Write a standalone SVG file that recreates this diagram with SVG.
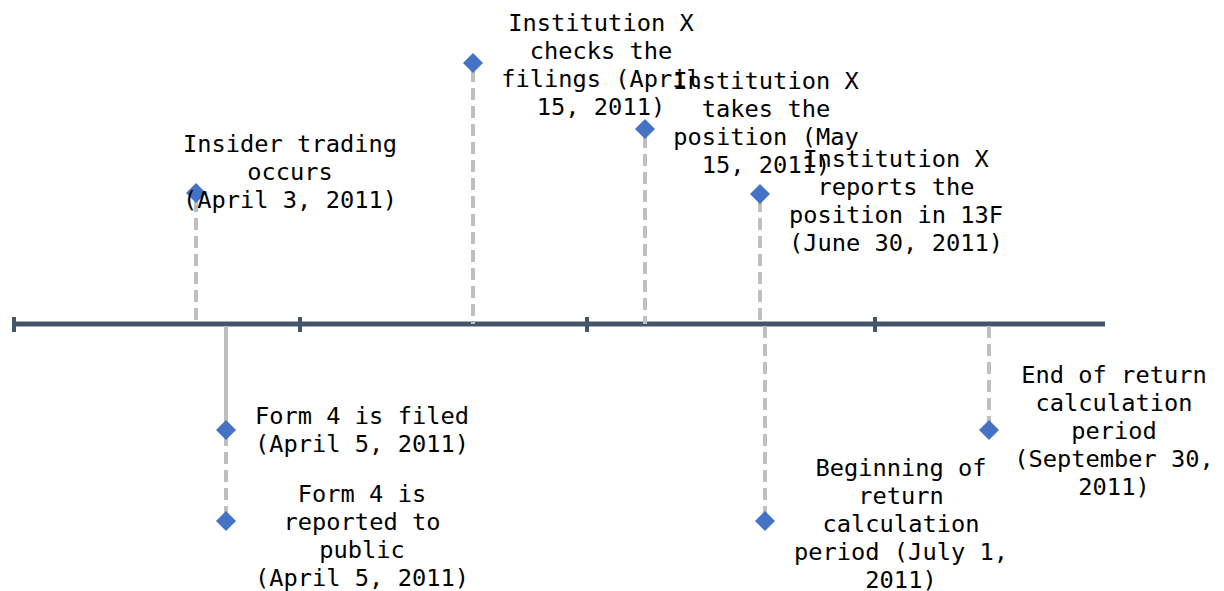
<svg xmlns="http://www.w3.org/2000/svg" width="1224" height="591" viewBox="0 0 1224 591">
<defs>
<style>
.axis{stroke:#44546A;stroke-width:5;fill:none}
.tick{stroke:#44546A;stroke-width:4;fill:none}
.dash{stroke:#BFBFBF;stroke-width:4;stroke-dasharray:12,6;fill:none}
.solid{stroke:#BFBFBF;stroke-width:4;fill:none}
.dia{fill:#4472C4}
text{font-family:"DejaVu Sans Mono","Liberation Mono",monospace;font-size:23.7px;fill:#000;text-anchor:middle}
</style>
<path id="d" d="M0,-10 L10,0 L0,10 L-10,0 Z"/>
</defs>
<rect width="1224" height="591" fill="#fff"/>
<g id="axis">
<line class="axis" x1="12" y1="324" x2="1105" y2="324"/>
<line class="tick" x1="14" y1="317" x2="14" y2="332"/>
<line class="tick" x1="300" y1="317" x2="300" y2="332"/>
<line class="tick" x1="587" y1="317" x2="587" y2="332"/>
<line class="tick" x1="875" y1="317" x2="875" y2="332"/>
</g>
<g id="connectors">
<line class="dash" x1="196" y1="200" x2="196" y2="324"/>
<line class="dash" x1="226" y1="326" x2="226" y2="521"/>
<line class="solid" x1="226" y1="326" x2="226" y2="430"/>
<line class="dash" x1="473" y1="70" x2="473" y2="324"/>
<line class="dash" x1="645" y1="136" x2="645" y2="324"/>
<line class="dash" x1="760" y1="200" x2="760" y2="324"/>
<line class="dash" x1="765" y1="326" x2="765" y2="521"/>
<line class="dash" x1="989" y1="326" x2="989" y2="430"/>
</g>
<g id="insider">
<use href="#d" class="dia" x="196" y="193"/>
<text x="290" y="151.5">Insider trading</text>
<text x="290" y="179.5">occurs</text>
<text x="290" y="207.5">(April 3, 2011)</text>
</g>
<g id="form4filed">
<use href="#d" class="dia" x="226" y="430"/>
<text x="362" y="423.5">Form 4 is filed</text>
<text x="362" y="451.5">(April 5, 2011)</text>
</g>
<g id="form4reported">
<use href="#d" class="dia" x="226" y="521"/>
<text x="362" y="501.5">Form 4 is</text>
<text x="362" y="529.5">reported to</text>
<text x="362" y="557.5">public</text>
<text x="362" y="585.5">(April 5, 2011)</text>
</g>
<g id="checks">
<use href="#d" class="dia" x="473" y="63"/>
<text x="601" y="30.5">Institution X</text>
<text x="601" y="58.5">checks the</text>
<text x="601" y="86.5">filings (April</text>
<text x="601" y="114.5">15, 2011)</text>
</g>
<g id="takes">
<use href="#d" class="dia" x="645" y="129"/>
<text x="766" y="88.5">Institution X</text>
<text x="766" y="116.5">takes the</text>
<text x="766" y="144.5">position (May</text>
<text x="766" y="172.5">15, 2011)</text>
</g>
<g id="reports">
<use href="#d" class="dia" x="760" y="194"/>
<text x="896" y="166.5">Institution X</text>
<text x="896" y="194.5">reports the</text>
<text x="896" y="222.5">position in 13F</text>
<text x="896" y="250.5">(June 30, 2011)</text>
</g>
<g id="beginning">
<use href="#d" class="dia" x="765" y="521"/>
<text x="901" y="475.5">Beginning of</text>
<text x="901" y="503.5">return</text>
<text x="901" y="531.5">calculation</text>
<text x="901" y="559.5">period (July 1,</text>
<text x="901" y="587.5">2011)</text>
</g>
<g id="end">
<use href="#d" class="dia" x="989" y="430"/>
<text x="1114" y="382.5">End of return</text>
<text x="1114" y="410.5">calculation</text>
<text x="1114" y="438.5">period</text>
<text x="1114" y="466.5">(September 30,</text>
<text x="1114" y="494.5">2011)</text>
</g>
</svg>
